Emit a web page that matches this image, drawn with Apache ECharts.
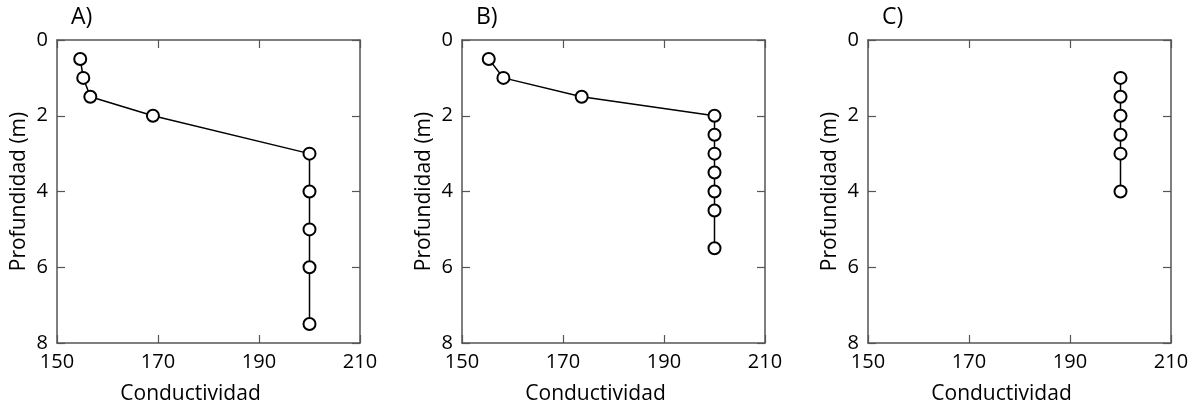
<!DOCTYPE html>
<html>
<head>
<meta charset="utf-8">
<script src="https://cdn.jsdelivr.net/npm/echarts@6/dist/echarts.min.js"></script>
<style>
  html, body { margin: 0; padding: 0; background: #fff; }
  #chart { width: 1198px; height: 411px; }
</style>
</head>
<body>
<div id="chart"></div>
<script>
// Conductivity profiles versus depth for three soundings
const panelLabels = ['A)', 'B)', 'C)'];

const depthA = [0.5, 1, 1.5, 2, 3, 4, 5, 6, 7.5];
const condA  = [154.6, 155.2, 156.6, 169.0, 200, 200, 200, 200, 200];

const depthB = [0.5, 1, 1.5, 2, 2.5, 3, 3.5, 4, 4.5, 5.5];
const condB  = [155.3, 158.2, 173.7, 200, 200, 200, 200, 200, 200, 200];

const depthC = [1, 1.5, 2, 2.5, 3, 4];
const condC  = [200, 200, 200, 200, 200, 200];

const xTicks = [150, 170, 190, 210];
const yTicks = [0, 2, 4, 6, 8];

const xTitle = 'Conductividad';
const yTitle = 'Profundidad (m)';

const profiles = [
  { cond: condA, depth: depthA },
  { cond: condB, depth: depthB },
  { cond: condC, depth: depthC }
];

const FONT = '"Open Sans", "Noto Sans", sans-serif';
const textColor = '#000';
const frameColor = '#555';
const gridLefts = [57, 462, 868];
const gridW = 303, gridH = 303, gridTop = 40;

const grids = [], xAxes = [], yAxes = [], series = [], titles = [];

profiles.forEach((p, i) => {
  grids.push({ left: gridLefts[i], top: gridTop, width: gridW, height: gridH, containLabel: false });

  const xCommon = {
    type: 'value', gridIndex: i,
    min: xTicks[0], max: xTicks[xTicks.length - 1], interval: xTicks[1] - xTicks[0],
    splitLine: { show: false },
    axisLine: { show: true, onZero: false, lineStyle: { color: frameColor, width: 1.5 } },
    axisTick: { show: true, inside: true, length: 8, lineStyle: { color: frameColor, width: 1.2 } }
  };
  xAxes.push(Object.assign({}, xCommon, {
    position: 'bottom',
    axisLabel: { show: true, margin: 9, color: textColor, fontSize: 20, fontFamily: FONT },
    name: xTitle, nameLocation: 'middle', nameGap: 41,
    nameTextStyle: { color: textColor, fontSize: 21, fontFamily: FONT, padding: [0, 36, 0, 0] }
  }));
  xAxes.push(Object.assign({}, xCommon, { position: 'top', axisLabel: { show: false } }));

  const yCommon = {
    type: 'value', gridIndex: i, inverse: true,
    min: yTicks[0], max: yTicks[yTicks.length - 1], interval: yTicks[1] - yTicks[0],
    splitLine: { show: false },
    axisLine: { show: true, onZero: false, lineStyle: { color: frameColor, width: 1.5 } },
    axisTick: { show: true, inside: true, length: 8, lineStyle: { color: frameColor, width: 1.2 } }
  };
  yAxes.push(Object.assign({}, yCommon, {
    position: 'left',
    axisLabel: { show: true, margin: 9, color: textColor, fontSize: 20, fontFamily: FONT },
    name: yTitle, nameLocation: 'middle', nameGap: 27, nameRotate: 90,
    nameTextStyle: { color: textColor, fontSize: 21, fontFamily: FONT }
  }));
  yAxes.push(Object.assign({}, yCommon, { position: 'right', axisLabel: { show: false } }));

  series.push({
    type: 'line',
    xAxisIndex: i * 2, yAxisIndex: i * 2,
    data: p.cond.map((c, k) => [c, p.depth[k]]),
    symbol: 'circle', symbolSize: 12,
    itemStyle: { color: '#fff', borderColor: '#000', borderWidth: 2 },
    lineStyle: { color: '#000', width: 1.5 },
    z: 3, animation: false
  });

  titles.push({
    text: panelLabels[i],
    left: gridLefts[i] + 9, top: 1,
    textStyle: { color: textColor, fontSize: 23, fontWeight: 'normal', fontFamily: FONT }
  });
});

const chart = echarts.init(document.getElementById('chart'), null, { renderer: 'canvas' });
chart.setOption({
  backgroundColor: '#fff',
  animation: false,
  title: titles,
  grid: grids,
  xAxis: xAxes,
  yAxis: yAxes,
  series: series
});
</script>
</body>
</html>
